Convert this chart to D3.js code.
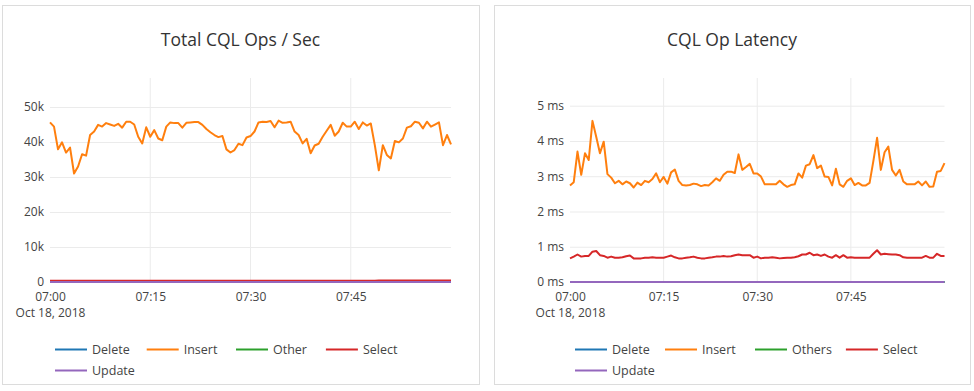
<!DOCTYPE html>
<html>
<head>
<meta charset="utf-8">
<script src="https://cdn.jsdelivr.net/npm/d3@7"></script>
<style>
  html, body { margin: 0; padding: 0; background: #fff; }
  svg { display: block; font-family: "Open Sans", sans-serif; }
</style>
</head>
<body>
<svg id="chart" width="974" height="391"></svg>
<script>
// ---------- DATA ----------
const startTime = "2018-10-18T07:00:00Z";
const stepSeconds = 36;
const tickTimes = ["2018-10-18T07:00:00Z", "2018-10-18T07:15:00Z", "2018-10-18T07:30:00Z", "2018-10-18T07:45:00Z"];
const tickDateLabel = "Oct 18, 2018";

// Left chart: Total CQL Ops / Sec
const opsTitle = "Total CQL Ops / Sec";
const opsSeriesNames = ["Delete", "Insert", "Other", "Select", "Update"];
const opsYTicks = [0, 10000, 20000, 30000, 40000, 50000];
const opsYTickLabels = ["0", "10k", "20k", "30k", "40k", "50k"];
const opsInsert = [
  45600,44400,37900,39900,37000,38400,31000,33000,36500,36100,
  42000,43000,44900,44400,45400,45000,44600,45200,44100,45800,
  45800,45000,41500,39600,44200,41500,43400,41000,40500,44400,
  45600,45400,45400,44100,45500,45600,45700,45700,44900,43700,
  42800,42000,41400,41700,37900,37000,37700,39500,39100,41300,
  41700,43000,45600,45800,45700,46000,44200,46100,45500,45600,
  45800,43000,42000,39600,40900,36800,39000,39500,41500,43200,
  44900,41800,43000,45500,44400,44400,45800,43700,45600,44700,
  45300,39100,31900,39100,36300,35300,40300,39900,41000,44100,
  44500,45800,45500,43900,45800,44400,45000,45600,39100,42000,
  39300
];
const opsSelect = [
  350,350,350,350,350,350,350,350,350,350,
  350,350,350,350,350,350,350,350,350,350,
  350,350,350,350,350,350,350,350,350,350,
  350,350,350,350,350,350,350,350,350,350,
  350,350,350,350,350,350,350,350,350,350,
  350,350,350,350,350,350,350,350,350,350,
  350,350,350,350,350,350,350,350,350,350,
  350,350,350,350,350,350,350,350,350,350,
  350,350,400,420,450,450,450,450,450,450,
  450,450,450,450,450,450,450,450,450,450,
  450
];
const opsUpdate = [
  30,30,30,30,30,30,30,30,30,30, 30,30,30,30,30,30,30,30,30,30,
  30,30,30,30,30,30,30,30,30,30, 30,30,30,30,30,30,30,30,30,30,
  30,30,30,30,30,30,30,30,30,30, 30,30,30,30,30,30,30,30,30,30,
  30,30,30,30,30,30,30,30,30,30, 30,30,30,30,30,30,30,30,30,30,
  30,30,30,30,30,30,30,30,30,30, 30,30,30,30,30,30,30,30,30,30,
  30
];
const opsDelete = [
  0,0,0,0,0,0,0,0,0,0, 0,0,0,0,0,0,0,0,0,0, 0,0,0,0,0,0,0,0,0,0,
  0,0,0,0,0,0,0,0,0,0, 0,0,0,0,0,0,0,0,0,0, 0,0,0,0,0,0,0,0,0,0,
  0,0,0,0,0,0,0,0,0,0, 0,0,0,0,0,0,0,0,0,0, 0,0,0,0,0,0,0,0,0,0,
  0,0,0,0,0,0,0,0,0,0, 0
];
const opsOther = opsDelete;

// Right chart: CQL Op Latency (ms)
const latTitle = "CQL Op Latency";
const latSeriesNames = ["Delete", "Insert", "Others", "Select", "Update"];
const latYTicks = [0, 1, 2, 3, 4, 5];
const latYTickLabels = ["0 ms", "1 ms", "2 ms", "3 ms", "4 ms", "5 ms"];
const latInsert = [
  2.74,2.83,3.70,3.04,3.65,3.46,4.57,4.12,3.65,3.98,
  3.06,2.96,2.80,2.87,2.77,2.85,2.80,2.68,2.82,2.75,
  2.87,2.83,2.92,3.08,2.83,2.98,2.79,3.11,3.19,2.87,
  2.75,2.74,2.75,2.79,2.77,2.72,2.75,2.74,2.83,2.94,
  2.87,3.04,3.13,3.13,3.09,3.62,3.18,3.26,3.35,3.08,
  3.08,2.99,2.77,2.77,2.77,2.77,2.87,2.77,2.70,2.75,
  2.77,3.08,2.96,3.30,3.34,3.60,3.23,3.30,2.99,2.98,
  2.74,3.21,2.77,2.70,2.87,2.94,2.75,2.81,2.74,2.74,
  2.81,3.43,4.09,3.18,3.68,3.84,3.18,3.02,3.18,2.85,
  2.77,2.77,2.77,2.85,2.74,2.85,2.70,2.71,3.13,3.15,
  3.37
];
const latSelect = [
  0.67,0.72,0.78,0.72,0.74,0.74,0.86,0.88,0.76,0.74,
  0.69,0.72,0.69,0.69,0.70,0.73,0.75,0.67,0.67,0.67,
  0.69,0.69,0.70,0.69,0.69,0.69,0.72,0.75,0.70,0.67,
  0.67,0.69,0.70,0.72,0.69,0.67,0.67,0.69,0.70,0.72,
  0.72,0.74,0.72,0.73,0.76,0.78,0.76,0.76,0.76,0.69,
  0.72,0.67,0.69,0.69,0.70,0.69,0.67,0.68,0.69,0.69,
  0.70,0.73,0.78,0.78,0.83,0.76,0.78,0.74,0.78,0.72,
  0.69,0.76,0.69,0.76,0.69,0.70,0.69,0.69,0.69,0.69,
  0.69,0.80,0.90,0.78,0.80,0.79,0.78,0.78,0.76,0.70,
  0.69,0.69,0.69,0.69,0.69,0.74,0.69,0.69,0.80,0.74,
  0.74
];
const latDelete = opsDelete;
const latOthers = opsDelete;
const latUpdate = opsDelete;

const seriesColors = ["#1f77b4", "#ff7f0e", "#2ca02c", "#d62728", "#9467bd"];

// ---------- DRAW ----------
const svg = d3.select("#chart");
const t0 = new Date(startTime);
const timeAt = i => new Date(t0.getTime() + i * stepSeconds * 1000);
const ticks = tickTimes.map(s => new Date(s));
const fmt = d3.utcFormat("%H:%M");

function drawPanel(cfg) {
  const g = svg.append("g");
  g.append("rect")
    .attr("x", cfg.panel[0] + 0.5).attr("y", cfg.panel[1] + 0.5)
    .attr("width", cfg.panel[2]).attr("height", cfg.panel[3])
    .attr("fill", "#fff").attr("stroke", "#dcdcdc").attr("stroke-width", 1);

  g.append("text")
    .attr("x", cfg.panel[0] + cfg.panel[2] / 2).attr("y", 46)
    .attr("text-anchor", "middle")
    .attr("font-size", 17.5).attr("fill", "#333")
    .text(cfg.title);

  const n = cfg.series[1].length;
  const x = d3.scaleUtc().domain([timeAt(0), timeAt(n - 1)]).range(cfg.xRange);
  const y = d3.scaleLinear().domain(cfg.yDomain).range([282, 78]);

  // horizontal gridlines
  const gy = g.append("g").attr("transform", `translate(${cfg.xRange[0]},0)`)
    .call(d3.axisLeft(y).tickValues(cfg.yTicks).tickSize(-(cfg.xRange[1] - cfg.xRange[0])).tickFormat((d, i) => cfg.yLabels[i]).tickPadding(6));
  gy.select(".domain").remove();
  gy.selectAll(".tick line").attr("stroke", "#ebebeb").attr("stroke-width", 1);
  gy.selectAll(".tick text").attr("font-size", 12).attr("fill", "#444").attr("font-family", "Open Sans, sans-serif");

  // vertical gridlines + labels
  const gx = g.append("g").attr("transform", `translate(0,282)`)
    .call(d3.axisBottom(x).tickValues(ticks).tickSize(0).tickFormat(fmt).tickPadding(10.5));
  gx.select(".domain").remove();
  gx.selectAll(".tick text").attr("font-size", 12).attr("fill", "#444").attr("font-family", "Open Sans, sans-serif");
  gx.selectAll(".tick").filter((d, i) => i === 0).append("text")
    .attr("y", 35).attr("fill", "#444").attr("font-size", 12).attr("font-family", "Open Sans, sans-serif")
    .attr("text-anchor", "middle")
    .text(tickDateLabel);
  g.append("g").selectAll("line").data(ticks.slice(1)).join("line")
    .attr("x1", d => x(d)).attr("x2", d => x(d))
    .attr("y1", 78).attr("y2", 282)
    .attr("stroke", "#ebebeb").attr("stroke-width", 1);

  const line = d3.line().x((d, i) => x(timeAt(i))).y(d => y(d));
  cfg.series.forEach((s, k) => {
    g.append("path").datum(s)
      .attr("d", line)
      .attr("fill", "none")
      .attr("stroke", seriesColors[k])
      .attr("stroke-width", 2)
      .attr("stroke-linejoin", "round");
  });

  // legend
  const lg = g.append("g");
  cfg.names.forEach((name, k) => {
    const row = k < 4 ? 0 : 1;
    const col = k < 4 ? k : 0;
    const lx = cfg.legendX + col * cfg.legendStep[col];
    const ly = 349.5 + row * 21;
    lg.append("line").attr("x1", lx).attr("x2", lx + 32).attr("y1", ly).attr("y2", ly)
      .attr("stroke", seriesColors[k]).attr("stroke-width", 2);
    lg.append("text").attr("x", lx + 37).attr("y", ly).attr("dy", "0.35em")
      .attr("font-size", 12.5).attr("fill", "#444").text(name);
  });
}

drawPanel({
  panel: [2, 5, 477, 379],
  title: opsTitle,
  xRange: [50, 451],
  yDomain: [0, 58290],
  yTicks: opsYTicks,
  yLabels: opsYTickLabels,
  series: [opsDelete, opsInsert, opsOther, opsSelect, opsUpdate],
  names: opsSeriesNames,
  legendX: 55,
  legendStep: [0, 91.7, 90.5, 90.3]
});

drawPanel({
  panel: [494, 5, 476, 379],
  title: latTitle,
  xRange: [570, 944.5],
  yDomain: [0, 5.786],
  yTicks: latYTicks,
  yLabels: latYTickLabels,
  series: [latDelete, latInsert, latOthers, latSelect, latUpdate],
  names: latSeriesNames,
  legendX: 575,
  legendStep: [0, 90, 90, 90.3]
});
</script>
</body>
</html>
